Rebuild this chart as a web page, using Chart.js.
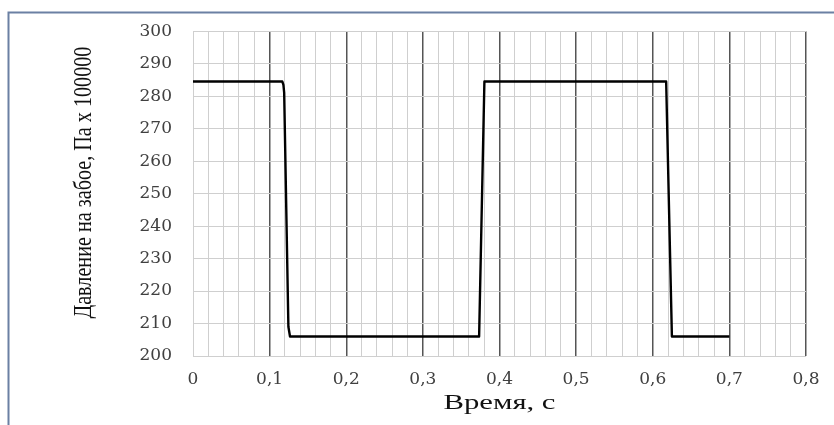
<!DOCTYPE html>
<html>
<head>
<meta charset="utf-8">
<script src="https://cdn.jsdelivr.net/npm/chart.js@4"></script>
<style>
  html, body { margin: 0; padding: 0; background: #fff; }
  #wrap { width: 834px; height: 425px; position: relative; }
</style>
</head>
<body>
<div id="wrap"><canvas id="pressureChart" width="834" height="425"></canvas></div>
<script>
// time, s
const timeValues = [0, 0.1166, 0.118, 0.119, 0.1245, 0.1266, 0.3734, 0.3803, 0.6175, 0.625, 0.7];
// bottom-hole pressure, Pa x 100000
const pressureValues = [284.5, 284.5, 283.5, 281, 209, 206, 206, 284.5, 284.5, 206, 206];

const xTitle = 'Время, с';
const yTitle = 'Давление на забое, Па x 100000';

function isMajor(v) {
  return Math.abs(v * 10 - Math.round(v * 10)) < 1e-6;
}

// frame + stretched axis titles
const decorPlugin = {
  id: 'decor',
  afterDraw(chart) {
    const ctx = chart.ctx;
    const area = chart.chartArea;
    ctx.save();
    // frame
    ctx.strokeStyle = '#6b80a3';
    ctx.lineWidth = 2;
    ctx.beginPath();
    ctx.moveTo(8.5, 425);
    ctx.lineTo(8.5, 12.5);
    ctx.lineTo(834, 12.5);
    ctx.stroke();

    ctx.fillStyle = '#111';
    ctx.textAlign = 'center';
    ctx.textBaseline = 'middle';

    // x title
    ctx.font = '21px "Liberation Serif"';
    let w = ctx.measureText(xTitle).width;
    ctx.save();
    ctx.translate((area.left + area.right) / 2, area.bottom + 47);
    ctx.scale(112 / w, 1);
    ctx.fillText(xTitle, 0, 0);
    ctx.restore();

    // y title
    ctx.font = '25px "Liberation Serif"';
    w = ctx.measureText(yTitle).width;
    ctx.save();
    ctx.translate(84, (area.top + area.bottom) / 2 - 11);
    ctx.rotate(-Math.PI / 2);
    ctx.scale(272 / w, 1);
    ctx.fillText(yTitle, 0, 0);
    ctx.restore();
    ctx.restore();
  }
};

new Chart(document.getElementById('pressureChart').getContext('2d'), {
  type: 'line',
  data: {
    datasets: [{
      data: timeValues.map((t, i) => ({ x: t, y: pressureValues[i] })),
      borderColor: '#000',
      borderWidth: 2.4,
      borderJoinStyle: 'round',
      pointRadius: 0,
      tension: 0
    }]
  },
  options: {
    responsive: false,
    animation: false,
    devicePixelRatio: 1,
    layout: { padding: { left: 0, right: 28, top: 28, bottom: 0 } },
    plugins: {
      legend: { display: false },
      tooltip: { enabled: false }
    },
    scales: {
      x: {
        type: 'linear',
        min: 0,
        max: 0.8,
        afterFit: s => { s.height = 69; },
        border: { display: false },
        grid: {
          drawTicks: false,
          color: c => (isMajor(c.tick.value) && c.tick.value > 0.01) ? '#555' : '#cfcfcf',
          lineWidth: c => (isMajor(c.tick.value) && c.tick.value > 0.01) ? 1.5 : 1
        },
        ticks: {
          stepSize: 0.02,
          autoSkip: false,
          maxRotation: 0,
          padding: 13,
          color: '#404040',
          font: { family: '"DejaVu Serif"', size: 17 },
          callback: v => isMajor(v) ? String(Math.round(v * 10) / 10).replace('.', ',') : ''
        }
      },
      y: {
        min: 200,
        max: 300,
        afterFit: s => { s.width = 193; },
        border: { display: false },
        grid: { drawTicks: false, color: '#cfcfcf', lineWidth: 1 },
        ticks: {
          stepSize: 10,
          padding: 21,
          color: '#404040',
          font: { family: '"DejaVu Serif"', size: 17 }
        }
      }
    }
  },
  plugins: [decorPlugin]
});
</script>
</body>
</html>
